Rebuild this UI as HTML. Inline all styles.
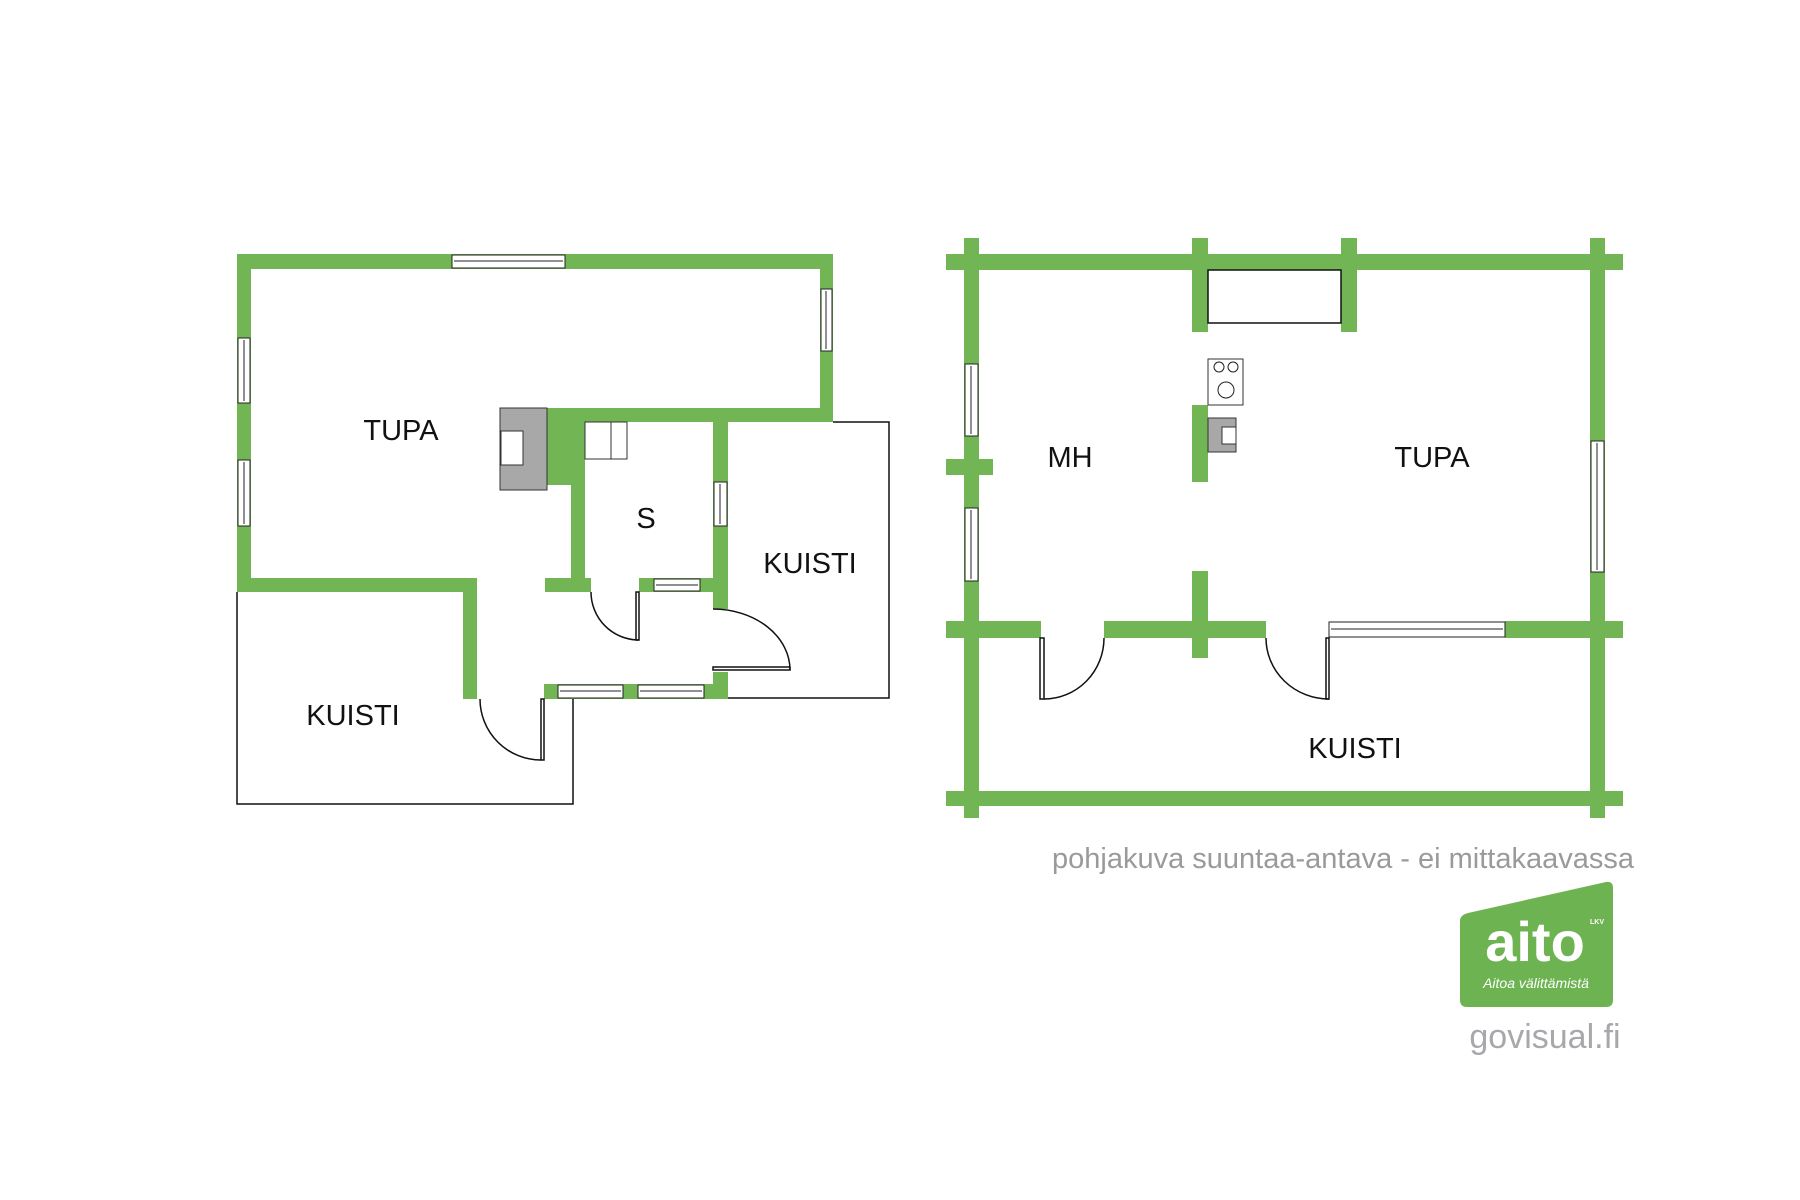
<!DOCTYPE html>
<html><head><meta charset="utf-8"><style>
html,body{margin:0;padding:0;background:#fff;}
svg{display:block;}
text{font-family:"Liberation Sans","DejaVu Sans",sans-serif;}
</style></head><body>
<svg width="1800" height="1200" viewBox="0 0 1800 1200" xmlns="http://www.w3.org/2000/svg">
<g fill="#72b554">
<rect x="237" y="254" width="596" height="15"/>
<rect x="237" y="254" width="14" height="338"/>
<rect x="820" y="254" width="13" height="168"/>
<rect x="547" y="408" width="286" height="14"/>
<rect x="547" y="408" width="38" height="77"/>
<rect x="571" y="408" width="14" height="184"/>
<rect x="237" y="578" width="240" height="14"/>
<rect x="463" y="578" width="14" height="121"/>
<rect x="545" y="578" width="46" height="14"/>
<rect x="639" y="578" width="89" height="14"/>
<rect x="713" y="422" width="15" height="187"/>
<rect x="544" y="684" width="184" height="15"/>
<rect x="713" y="672" width="15" height="27"/>
<rect x="946" y="254" width="677" height="16"/>
<rect x="964" y="238" width="15" height="580"/>
<rect x="1590" y="238" width="15" height="580"/>
<rect x="1192" y="238" width="16" height="94"/>
<rect x="1341" y="238" width="16" height="94"/>
<rect x="946" y="459" width="47" height="16"/>
<rect x="1192" y="405" width="16" height="77"/>
<rect x="1192" y="571" width="16" height="87"/>
<rect x="946" y="621" width="95" height="17"/>
<rect x="1104" y="621" width="162" height="17"/>
<rect x="1505" y="621" width="118" height="17"/>
<rect x="946" y="791" width="677" height="15"/>
</g>
<g fill="#fff" stroke="#222" stroke-width="1">
<rect x="452" y="255" width="113" height="13"/>
<line x1="454" y1="261" x2="563" y2="261"/>
<rect x="238" y="338" width="12" height="65"/><line x1="244" y1="340" x2="244" y2="401"/>
<rect x="238" y="460" width="12" height="66"/><line x1="244" y1="462" x2="244" y2="524"/>
<rect x="821" y="289" width="11" height="62"/><line x1="826" y1="291" x2="826" y2="349"/>
<rect x="714" y="482" width="13" height="44"/><line x1="720" y1="484" x2="720" y2="524"/>
<rect x="654" y="579" width="46" height="12"/><line x1="656" y1="585" x2="698" y2="585"/>
<rect x="558" y="685" width="65" height="13"/><line x1="560" y1="691" x2="621" y2="691"/>
<rect x="638" y="685" width="66" height="13"/><line x1="640" y1="691" x2="702" y2="691"/>
<rect x="965" y="364" width="13" height="72"/><line x1="971" y1="366" x2="971" y2="434"/>
<rect x="965" y="508" width="13" height="73"/><line x1="971" y1="510" x2="971" y2="579"/>
<rect x="1591" y="441" width="13" height="131"/><line x1="1597" y1="443" x2="1597" y2="570"/>
<rect x="1329" y="622" width="176" height="15"/><line x1="1331" y1="629" x2="1503" y2="629"/>
</g>
<g fill="none" stroke="#111" stroke-width="1.5">
<polyline points="237,592 237,804 573,804 573,699"/>
<polyline points="833,422 889,422 889,698 728,698"/>
<rect x="1208" y="270" width="133" height="53"/>
<path d="M591,592 A48,48 0 0 0 639,640"/>
<rect x="636" y="592" width="3" height="48"/>
<path d="M713,609 A77,61 0 0 1 790,670"/>
<rect x="713" y="667" width="77" height="3"/>
<path d="M480,699 A61,61 0 0 0 541,760"/>
<rect x="541" y="699" width="3" height="61"/>
<path d="M1104,638 A60,61 0 0 1 1044,699"/>
<rect x="1040" y="638" width="4" height="61"/>
<path d="M1266,638 A63,61 0 0 0 1329,699"/>
<rect x="1326" y="638" width="3" height="61"/>
</g>
<rect x="500" y="408" width="47" height="82" fill="#a8a8a8" stroke="#333" stroke-width="1"/>
<rect x="501" y="431" width="22" height="34" fill="#fff" stroke="#333" stroke-width="1"/>
<rect x="585" y="422" width="42" height="37" fill="#fff" stroke="#333" stroke-width="1"/>
<line x1="611" y1="422" x2="611" y2="459" stroke="#333"/>
<rect x="1208" y="359" width="35" height="46" fill="#fff" stroke="#333" stroke-width="1"/>
<circle cx="1219" cy="367" r="5" fill="none" stroke="#222"/>
<circle cx="1233" cy="367" r="5" fill="none" stroke="#222"/>
<ellipse cx="1226" cy="390" rx="8" ry="8" fill="none" stroke="#222"/>
<rect x="1208" y="418" width="28" height="34" fill="#a8a8a8" stroke="#333" stroke-width="1"/>
<rect x="1222" y="427" width="14" height="17" fill="#fff" stroke="#333" stroke-width="1"/>
<g fill="#111" font-size="29" text-anchor="middle">
<text x="401" y="440">TUPA</text>
<text x="646" y="528">S</text>
<text x="810" y="573">KUISTI</text>
<text x="353" y="725">KUISTI</text>
<text x="1070" y="467">MH</text>
<text x="1432" y="467">TUPA</text>
<text x="1355" y="758">KUISTI</text>
</g>
<text x="1634" y="868" font-size="29" fill="#9a9a9a" text-anchor="end">pohjakuva suuntaa-antava - ei mittakaavassa</text>
<path d="M1468,913 L1606,882 Q1613,881 1613,888 L1613,1000 Q1613,1007 1606,1007 L1467,1007 Q1460,1007 1460,1000 L1460,921 Q1460,915 1468,913 Z" fill="#6db352"/>
<text x="1535" y="961" font-size="56" font-weight="bold" fill="#fff" text-anchor="middle">aito</text>
<text x="1590" y="924" font-size="7" font-weight="bold" fill="#fff">LKV</text>
<text x="1536" y="988" font-size="14" font-style="italic" fill="#fff" text-anchor="middle" font-family="Liberation Serif, serif">Aitoa välittämistä</text>
<text x="1545" y="1048" font-size="34" fill="#a8a8ac" text-anchor="middle">govisual.fi</text>
</svg>
</body></html>
